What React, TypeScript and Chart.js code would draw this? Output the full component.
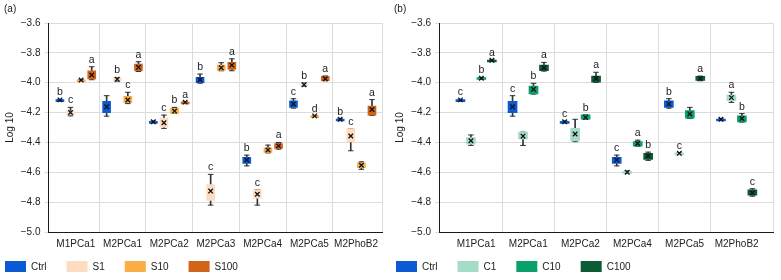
import { useEffect, useRef } from 'react';
import { Chart, registerables } from 'chart.js';

Chart.register(...registerables);

// Each row: [whisker low, box low, mean, box high, whisker high] on the Log 10 scale
type Row = [number, number, number, number, number];

const FONT = "'Liberation Sans', Arial, Helvetica, sans-serif";
const TEXT = '#222222';
const GRID = '#dcdcdc';
const WHISKER = '#333333';

const yTicks = [-5.0, -4.8, -4.6, -4.4, -4.2, -4.0, -3.8, -3.6];

// ---- panel (a): S-series ----
const catsA = ['M1PCa1', 'M2PCa1', 'M2PCa2', 'M2PCa3', 'M2PCa4', 'M2PCa5', 'M2PhoB2'];

const ctrlA: Row[] = [
  [-4.118, -4.117, -4.115, -4.113, -4.112],
  [-4.224, -4.2, -4.161, -4.125, -4.087],
  [-4.266, -4.265, -4.262, -4.259, -4.257],
  [-4.003, -4.0, -3.98, -3.964, -3.942],
  [-4.557, -4.54, -4.518, -4.5, -4.485],
  [-4.17, -4.165, -4.142, -4.122, -4.107],
  [-4.248, -4.247, -4.245, -4.243, -4.242],
];
const s1A: Row[] = [
  [-4.222, -4.215, -4.2, -4.19, -4.165],
  [-3.99, -3.988, -3.977, -3.968, -3.965],
  [-4.306, -4.297, -4.268, -4.237, -4.217],
  [-4.82, -4.788, -4.726, -4.683, -4.614],
  [-4.82, -4.774, -4.747, -4.718, -4.718],
  [-4.022, -4.02, -4.013, -4.005, -4.003],
  [-4.456, -4.397, -4.357, -4.308, -4.308],
];
const s10A: Row[] = [
  [-3.985, -3.984, -3.982, -3.98, -3.979],
  [-4.14, -4.134, -4.116, -4.092, -4.064],
  [-4.205, -4.205, -4.19, -4.172, -4.165],
  [-3.92, -3.918, -3.9, -3.882, -3.866],
  [-4.47, -4.468, -4.451, -4.436, -4.418],
  [-4.224, -4.223, -4.222, -4.221, -4.22],
  [-4.58, -4.569, -4.553, -4.536, -4.53],
];
const s100A: Row[] = [
  [-3.98, -3.975, -3.948, -3.92, -3.893],
  [-3.925, -3.919, -3.897, -3.876, -3.859],
  [-4.132, -4.131, -4.13, -4.129, -4.128],
  [-3.92, -3.911, -3.882, -3.864, -3.84],
  [-4.445, -4.44, -4.423, -4.407, -4.4],
  [-3.987, -3.987, -3.973, -3.958, -3.955],
  [-4.22, -4.217, -4.179, -4.157, -4.113],
];
const ctrlLettersA = ['b', '', '', 'b', 'b', 'c', 'b'];
const s1LettersA = ['c', 'b', 'c', 'c', 'c', 'b', 'c'];
const s10LettersA = ['', 'c', 'b', '', '', 'd', ''];
const s100LettersA = ['a', 'a', 'a', 'a', 'a', 'a', 'a'];

// ---- panel (b): C-series ----
const catsB = ['M1PCa1', 'M2PCa1', 'M2PCa2', 'M2PCa4', 'M2PCa5', 'M2PhoB2'];

const ctrlB: Row[] = [
  [-4.118, -4.117, -4.115, -4.113, -4.112],
  [-4.224, -4.2, -4.161, -4.125, -4.087],
  [-4.266, -4.265, -4.262, -4.259, -4.257],
  [-4.557, -4.54, -4.518, -4.5, -4.485],
  [-4.17, -4.165, -4.142, -4.122, -4.107],
  [-4.248, -4.247, -4.245, -4.243, -4.242],
];
const c1B: Row[] = [
  [-4.42, -4.411, -4.389, -4.367, -4.35],
  [-4.42, -4.376, -4.358, -4.331, -4.331],
  [-4.395, -4.39, -4.344, -4.305, -4.245],
  [-4.608, -4.607, -4.6, -4.593, -4.592],
  [-4.476, -4.475, -4.473, -4.471, -4.47],
  [-4.132, -4.12, -4.1, -4.083, -4.064],
];
const c10B: Row[] = [
  [-3.976, -3.975, -3.97, -3.965, -3.964],
  [-4.076, -4.075, -4.044, -4.022, -4.004],
  [-4.245, -4.245, -4.232, -4.215, -4.215],
  [-4.425, -4.425, -4.407, -4.394, -4.385],
  [-4.24, -4.238, -4.209, -4.187, -4.165],
  [-4.264, -4.262, -4.24, -4.222, -4.207],
];
const c100B: Row[] = [
  [-3.853, -3.852, -3.85, -3.848, -3.847],
  [-3.922, -3.92, -3.9, -3.882, -3.864],
  [-3.998, -3.997, -3.972, -3.955, -3.93],
  [-4.52, -4.513, -4.49, -4.473, -4.465],
  [-3.987, -3.985, -3.971, -3.958, -3.956],
  [-4.76, -4.754, -4.738, -4.718, -4.71],
];
const ctrlLettersB = ['c', 'c', 'c', 'c', 'b', ''];
const c1LettersB = ['', '', '', '', 'c', 'a'];
const c10LettersB = ['b', 'b', 'b', 'a', '', 'b'];
const c100LettersB = ['a', 'a', 'a', 'b', 'a', 'c'];

interface Series {
  label: string;
  color: string;
  rows: Row[];
  letters: string[];
}

interface PanelProps {
  cats: string[];
  series: Series[];
  xMin: number;
  xMax: number;
  step: number;
  boxWidth: number;
  axisWidth: number;
  padRight: number;
  left: number;
  width: number;
  legendX: number;
}

const fmtTick = (v: number) => v.toFixed(1).replace('-', '\u2212');

function Panel(props: PanelProps) {
  const ref = useRef<HTMLCanvasElement>(null);

  useEffect(() => {
    const { cats, series, xMin, xMax, step, boxWidth, axisWidth, padRight, legendX } = props;
    const mid = (series.length - 1) / 2;
    const xOf = (g: number, i: number) => i + (g - mid) * step;

    const datasets: any[] = [];
    series.forEach((s, g) => {
      datasets.push({
        type: 'bar',
        label: s.label,
        data: s.rows.map((r, i) => ({ x: xOf(g, i), y: [r[1], r[3]] })),
        backgroundColor: s.color,
        borderWidth: 0,
        barThickness: boxWidth,
        grouped: false,
        minBarLength: 2,
        order: 2,
      });
    });
    series.forEach((s, g) => {
      // whisker stems
      datasets.push({
        type: 'bar',
        label: '',
        data: s.rows.map((r, i) => ({ x: xOf(g, i), y: [r[0], r[4]] })),
        backgroundColor: WHISKER,
        borderWidth: 0,
        barThickness: 1,
        grouped: false,
        order: 3,
      });
      // whisker caps
      datasets.push({
        type: 'scatter',
        label: '',
        data: s.rows.flatMap((r, i) => [
          { x: xOf(g, i), y: r[0] },
          { x: xOf(g, i), y: r[4] },
        ]),
        pointStyle: 'line',
        pointRadius: 2.8,
        pointBorderColor: WHISKER,
        pointBackgroundColor: WHISKER,
        pointBorderWidth: 1,
        showLine: false,
        order: 3,
      });
      // means
      datasets.push({
        type: 'scatter',
        label: '',
        data: s.rows.map((r, i) => ({ x: xOf(g, i), y: r[2] })),
        pointStyle: 'crossRot',
        pointRadius: 3.2,
        pointBorderColor: '#111111',
        pointBackgroundColor: '#111111',
        pointBorderWidth: 1.3,
        showLine: false,
        order: 1,
      });
    });

    // significance letters above each whisker
    const letterPlugin = {
      id: 'groupLetters',
      afterDatasetsDraw(chart: any) {
        const { ctx } = chart;
        const xs = chart.scales.x;
        const ys = chart.scales.y;
        ctx.save();
        ctx.font = `10.5px ${FONT}`;
        ctx.fillStyle = TEXT;
        ctx.textAlign = 'center';
        ctx.textBaseline = 'alphabetic';
        series.forEach((s, g) => {
          s.letters.forEach((t, i) => {
            if (!t) return;
            ctx.fillText(t, xs.getPixelForValue(xOf(g, i)), ys.getPixelForValue(s.rows[i][4]) - 4);
          });
        });
        ctx.restore();
      },
    };

    // single-row legend under the axis, built from the box datasets
    const legendRow = {
      id: 'legendRow',
      afterDraw(chart: any) {
        const { ctx } = chart;
        const items = chart.data.datasets.filter((d: any) => d.label);
        const top = 261;
        let x = legendX;
        ctx.save();
        ctx.font = `10px ${FONT}`;
        ctx.textAlign = 'left';
        ctx.textBaseline = 'middle';
        items.forEach((d: any) => {
          ctx.fillStyle = d.backgroundColor;
          ctx.fillRect(x, top, 21, 11);
          ctx.fillStyle = TEXT;
          ctx.fillText(d.label, x + 26, top + 6);
          x += 26 + ctx.measureText(d.label).width + 20;
        });
        ctx.restore();
      },
    };

    const xTickValues: number[] = [];
    for (let i = 0; i < cats.length; i++) {
      xTickValues.push(i);
      if (i < cats.length - 1) xTickValues.push(i + 0.5);
    }
    xTickValues.push(xMax);

    const chart = new Chart(ref.current as HTMLCanvasElement, {
      type: 'bar',
      data: { datasets },
      plugins: [letterPlugin, legendRow],
      options: {
        responsive: false,
        animation: false,
        events: [],
        layout: { padding: { top: 23, right: padRight, bottom: 0, left: 0 } },
        plugins: {
          legend: { display: false },
          tooltip: { enabled: false },
        },
        scales: {
          x: {
            type: 'linear',
            min: xMin,
            max: xMax,
            offset: false,
            afterBuildTicks: (scale: any) => {
              scale.ticks = xTickValues.map((v) => ({ value: v }));
            },
            afterFit: (scale: any) => {
              scale.height = 48;
            },
            ticks: {
              autoSkip: false,
              maxRotation: 0,
              minRotation: 0,
              padding: 6,
              color: TEXT,
              font: { family: FONT, size: 10 },
              callback: (v: any) => (Number.isInteger(v) ? cats[v] : ''),
            },
            grid: {
              offset: false,
              drawTicks: false,
              lineWidth: 1,
              color: (c: any) =>
                c.tick && Number.isInteger(c.tick.value) ? 'rgba(0,0,0,0)' : GRID,
            },
            border: { display: true, color: '#1a1a1a', width: 1 },
          },
          y: {
            type: 'linear',
            min: -5,
            max: -3.6,
            afterBuildTicks: (scale: any) => {
              scale.ticks = yTicks.map((v) => ({ value: v }));
            },
            afterFit: (scale: any) => {
              scale.width = axisWidth;
            },
            ticks: {
              padding: 4,
              color: TEXT,
              font: { family: FONT, size: 10 },
              callback: (v: any) => fmtTick(Number(v)),
            },
            grid: { color: GRID, lineWidth: 1, drawTicks: true, tickLength: 4 },
            border: { display: true, color: '#1a1a1a', width: 1 },
            title: {
              display: true,
              text: 'Log 10',
              color: TEXT,
              font: { family: FONT, size: 10 },
              padding: { top: 4, bottom: 0 },
            },
          },
        },
      } as any,
    });

    return () => chart.destroy();
  }, []);

  return (
    <canvas
      ref={ref}
      width={props.width}
      height={280}
      style={{ position: 'absolute', left: props.left, top: 0, width: props.width, height: 280 }}
    />
  );
}

const seriesA: Series[] = [
  { label: 'Ctrl', color: '#0a5bd3', rows: ctrlA, letters: ctrlLettersA },
  { label: 'S1', color: '#fddcc2', rows: s1A, letters: s1LettersA },
  { label: 'S10', color: '#fbad48', rows: s10A, letters: s10LettersA },
  { label: 'S100', color: '#d2641a', rows: s100A, letters: s100LettersA },
];

const seriesB: Series[] = [
  { label: 'Ctrl', color: '#0a5bd3', rows: ctrlB, letters: ctrlLettersB },
  { label: 'C1', color: '#a5dcc5', rows: c1B, letters: c1LettersB },
  { label: 'C10', color: '#0aa06a', rows: c10B, letters: c10LettersB },
  { label: 'C100', color: '#0b5b34', rows: c100B, letters: c100LettersB },
];

export default function App() {
  const tag = { position: 'absolute' as const, top: 3, fontSize: 10, lineHeight: '12px', color: TEXT };
  return (
    <div
      style={{
        position: 'fixed',
        left: 0,
        top: 0,
        width: 781,
        height: 280,
        overflow: 'hidden',
        background: '#ffffff',
        fontFamily: FONT,
      }}
    >
      <Panel
        cats={catsA}
        series={seriesA}
        xMin={-0.585}
        xMax={6.57}
        step={0.227}
        boxWidth={8}
        axisWidth={48.5}
        padRight={7.3}
        left={0}
        width={390}
        legendX={5}
      />
      <Panel
        cats={catsB}
        series={seriesB}
        xMin={-0.713}
        xMax={5.707}
        step={0.201}
        boxWidth={9}
        axisWidth={49}
        padRight={7.5}
        left={390}
        width={391}
        legendX={6}
      />
      <div style={{ ...tag, left: 4 }}>(a)</div>
      <div style={{ ...tag, left: 394 }}>(b)</div>
    </div>
  );
}
